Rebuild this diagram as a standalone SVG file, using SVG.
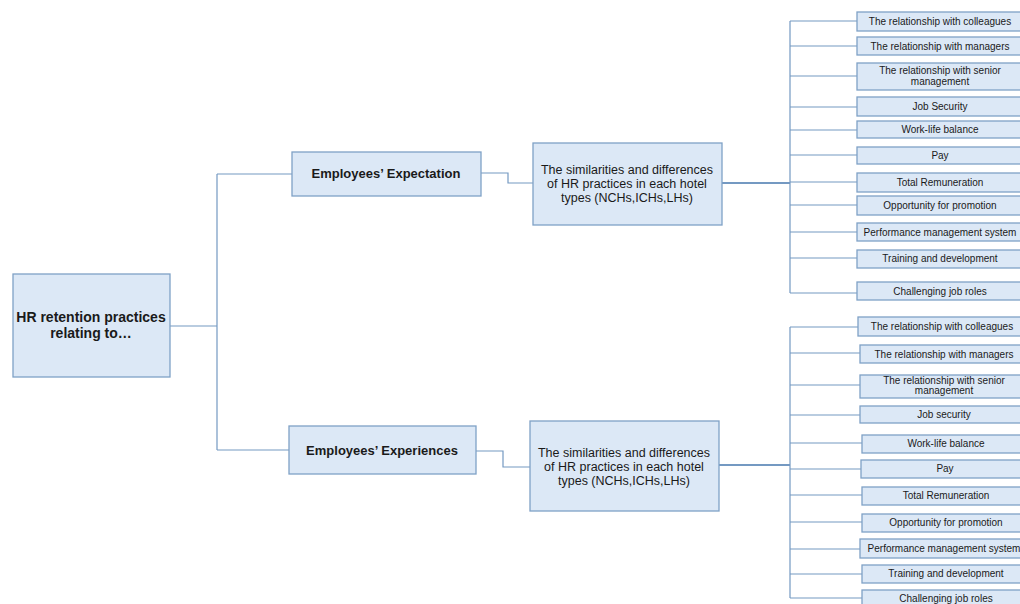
<svg xmlns="http://www.w3.org/2000/svg" width="1020" height="604" viewBox="0 0 1020 604">
<style>
.n{fill:#dce8f6;stroke:#7fa1c6;stroke-width:1.3}
.l{fill:none;stroke:#7499c2;stroke-width:1.2}
.t{stroke-width:2}
text{font-family:"Liberation Sans",Arial,sans-serif;fill:#1a1a1a;text-anchor:middle}
.b{font-weight:bold}
.s{font-size:10px}
.m{font-size:12.5px}
</style>
<rect width="1020" height="604" fill="#ffffff"/>
<g id="connectors">
<path class="l" d="M170 326H217M217 174V450M217 174H292M217 450H289"/>
<path class="l" d="M481 173H508V183H533M476 451H503V467H530"/>
<path class="l t" d="M722 183H790M719 465H790"/>
<path class="l" d="M790 21V293M790 21H857M790 46H857M790 76H857M790 107H857M790 130H857M790 155H857M790 182H857M790 205H857M790 232H857M790 258H857M790 293H857"/>
<path class="l" d="M790 327V598M790 327H858M790 353H860M790 385H860M790 415H860M790 443H862M790 469H861M790 495H862M790 522H862M790 549H860M790 574H862M790 598H862"/>
</g>
<g id="root"><rect class="n" x="13" y="274" width="157" height="103"/><text class="b" x="91" y="322" font-size="14">HR retention practices</text><text class="b" x="91" y="338" font-size="14">relating to…</text></g>
<g id="expectation"><rect class="n" x="292" y="152" width="189" height="44"/><text class="b" x="386" y="178" font-size="13">Employees’ Expectation</text></g>
<g id="experiences"><rect class="n" x="289" y="426" width="187" height="48"/><text class="b" x="382" y="455" font-size="13">Employees’ Experiences</text></g>
<g id="sim1"><rect class="n" x="533" y="143" width="189" height="82"/><text class="m" x="627" y="174">The similarities and differences</text><text class="m" x="627" y="188">of HR practices in each hotel</text><text class="m" x="627" y="202">types (NCHs,ICHs,LHs)</text></g>
<g id="sim2"><rect class="n" x="530" y="421" width="189" height="90"/><text class="m" x="624" y="457">The similarities and differences</text><text class="m" x="624" y="471">of HR practices in each hotel</text><text class="m" x="624" y="485">types (NCHs,ICHs,LHs)</text></g>
<g id="a1"><rect class="n" x="857" y="12" width="166" height="19"/><text class="s" x="940" y="25">The relationship with colleagues</text></g>
<g id="a2"><rect class="n" x="857" y="37" width="166" height="18"/><text class="s" x="940" y="50">The relationship with managers</text></g>
<g id="a3"><rect class="n" x="857" y="63" width="166" height="27"/><text class="s" x="940" y="74">The relationship with senior</text><text class="s" x="940" y="85">management</text></g>
<g id="a4"><rect class="n" x="857" y="97" width="166" height="19"/><text class="s" x="940" y="110">Job Security</text></g>
<g id="a5"><rect class="n" x="857" y="121" width="166" height="17"/><text class="s" x="940" y="133">Work-life balance</text></g>
<g id="a6"><rect class="n" x="857" y="147" width="166" height="17"/><text class="s" x="940" y="159">Pay</text></g>
<g id="a7"><rect class="n" x="857" y="173" width="166" height="19"/><text class="s" x="940" y="186">Total Remuneration</text></g>
<g id="a8"><rect class="n" x="857" y="196" width="166" height="19"/><text class="s" x="940" y="209">Opportunity for promotion</text></g>
<g id="a9"><rect class="n" x="857" y="223" width="166" height="18"/><text class="s" x="940" y="236">Performance management system</text></g>
<g id="a10"><rect class="n" x="857" y="250" width="166" height="18"/><text class="s" x="940" y="262">Training and development</text></g>
<g id="a11"><rect class="n" x="857" y="282" width="166" height="18"/><text class="s" x="940" y="295">Challenging job roles</text></g>
<g id="b1"><rect class="n" x="858" y="317" width="168" height="19"/><text class="s" x="942" y="330">The relationship with colleagues</text></g>
<g id="b2"><rect class="n" x="860" y="345" width="168" height="18"/><text class="s" x="944" y="358">The relationship with managers</text></g>
<g id="b3"><rect class="n" x="860" y="375" width="168" height="23"/><text class="s" x="944" y="384">The relationship with senior</text><text class="s" x="944" y="394">management</text></g>
<g id="b4"><rect class="n" x="860" y="406" width="168" height="17"/><text class="s" x="944" y="418">Job security</text></g>
<g id="b5"><rect class="n" x="862" y="435" width="168" height="18"/><text class="s" x="946" y="447">Work-life balance</text></g>
<g id="b6"><rect class="n" x="861" y="460" width="168" height="18"/><text class="s" x="945" y="472">Pay</text></g>
<g id="b7"><rect class="n" x="862" y="487" width="168" height="18"/><text class="s" x="946" y="499">Total Remuneration</text></g>
<g id="b8"><rect class="n" x="862" y="514" width="168" height="18"/><text class="s" x="946" y="526">Opportunity for promotion</text></g>
<g id="b9"><rect class="n" x="860" y="539" width="168" height="19"/><text class="s" x="944" y="552">Performance management system</text></g>
<g id="b10"><rect class="n" x="862" y="565" width="168" height="18"/><text class="s" x="946" y="577">Training and development</text></g>
<g id="b11"><rect class="n" x="862" y="590" width="168" height="18"/><text class="s" x="946" y="602">Challenging job roles</text></g>
</svg>
